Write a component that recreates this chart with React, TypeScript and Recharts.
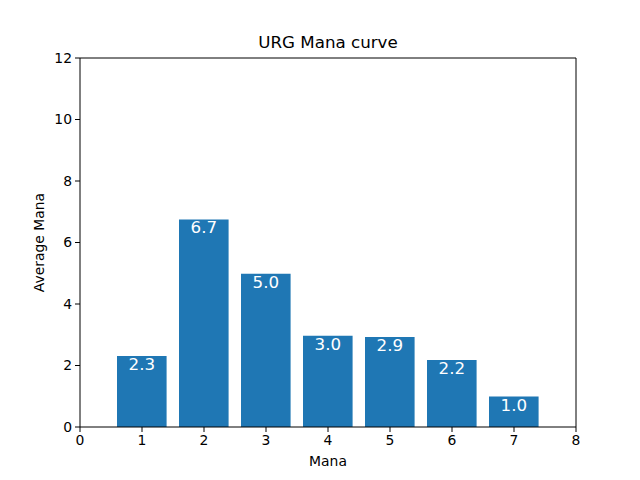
import React from "react";
import { BarChart, Bar, XAxis, YAxis, LabelList, ReferenceLine } from "recharts";

const manaCosts = [1, 2, 3, 4, 5, 6, 7];
const avgMana = [2.31, 6.75, 4.98, 2.97, 2.93, 2.18, 0.99];
const barLabels = ["2.3", "6.7", "5.0", "3.0", "2.9", "2.2", "1.0"];
const xTicks = [0, 1, 2, 3, 4, 5, 6, 7, 8];
const yTicks = [0, 2, 4, 6, 8, 10, 12];
const xMax = 8;
const yMax = 12;

const data = manaCosts.map((m, i) => ({ mana: m, value: avgMana[i], label: barLabels[i] }));

const FONT = "DejaVu Sans, sans-serif";
const W = 640;
const H = 480;
const M = { top: 58, right: 64, bottom: 23, left: 40 };
const plotW = W - M.left - 40 - M.right;

const BarLabel = (props: any) => {
  const { x, y, width, value } = props;
  return (
    <text
      x={Number(x) + Number(width) / 2}
      y={Number(y) + 14}
      textAnchor="middle"
      fill="#ffffff"
      fontSize={16.7}
      fontFamily={FONT}
    >
      {value}
    </text>
  );
};

export default function App() {
  return (
    <div style={{ position: "absolute", left: 0, top: 0, width: W, height: H, background: "#fff", fontFamily: FONT }}>
      <BarChart width={W} height={H} data={data} margin={M}>
        <XAxis
          dataKey="mana"
          type="number"
          domain={[0, xMax]}
          ticks={xTicks}
          interval={0}
          allowDataOverflow
          height={30}
          tickSize={5}
          tickMargin={3}
          stroke="#000"
          tick={{ fill: "#000", fontSize: 13.9, fontFamily: FONT }}
          axisLine={{ stroke: "#000" }}
          tickLine={{ stroke: "#000" }}
        />
        <YAxis
          type="number"
          domain={[0, yMax]}
          ticks={yTicks}
          interval={0}
          width={40}
          tickSize={5}
          tickMargin={3}
          stroke="#000"
          tick={{ fill: "#000", fontSize: 13.9, fontFamily: FONT }}
          axisLine={{ stroke: "#000" }}
          tickLine={{ stroke: "#000" }}
        />
        <Bar dataKey="value" fill="#1f77b4" barSize={plotW / 8 * 0.8} isAnimationActive={false}>
          <LabelList dataKey="label" content={BarLabel} />
        </Bar>
        <ReferenceLine y={yMax} stroke="#000" strokeWidth={1} />
        <ReferenceLine x={xMax} stroke="#000" strokeWidth={1} />
      </BarChart>
      <div style={{ position: "absolute", left: 80, width: 496, top: 32, textAlign: "center", fontSize: 16.7, color: "#000", lineHeight: "20px" }}>
        URG Mana curve
      </div>
      <div style={{ position: "absolute", left: 80, width: 496, top: 453, textAlign: "center", fontSize: 13.9, color: "#000", lineHeight: "17px" }}>
        Mana
      </div>
      <div
        style={{
          position: "absolute",
          left: 39 - 100,
          top: 242 - 8.5,
          width: 200,
          textAlign: "center",
          fontSize: 13.9,
          color: "#000",
          lineHeight: "17px",
          transform: "rotate(-90deg)",
        }}
      >
        Average Mana
      </div>
    </div>
  );
}
